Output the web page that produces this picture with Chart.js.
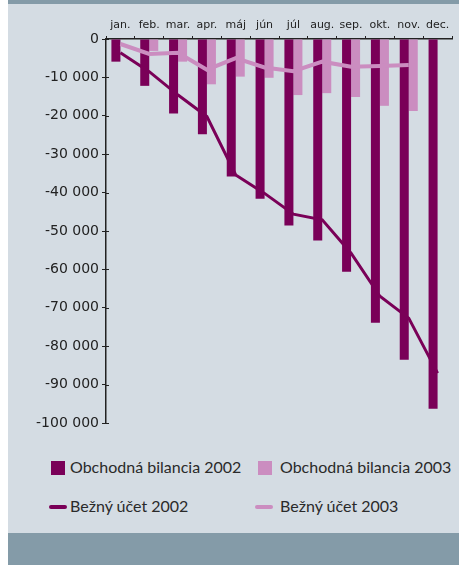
<!DOCTYPE html>
<html>
<head>
<meta charset="utf-8">
<script src="https://cdn.jsdelivr.net/npm/chart.js@4/dist/chart.umd.min.js"></script>
<style>
  html, body { margin:0; padding:0; background:#ffffff; }
  #wrap { position:relative; width:459px; height:565px; overflow:hidden; }
  #topstrip { position:absolute; left:8px; top:0; width:451px; height:4px; background:#849ba8; }
  #panel { position:absolute; left:8px; top:4px; width:451px; height:529px; background:#d4dce3; }
  #botstrip { position:absolute; left:8px; top:533px; width:451px; height:32px; background:#849ba8; }
  #c { position:absolute; left:8px; top:4px; }
  .lg { position:absolute; font-family:Lato, "Open Sans", sans-serif; font-size:16px; color:#2a2a2a; white-space:nowrap; line-height:20px; }
  .sw { position:absolute; }
</style>
</head>
<body>
<div id="wrap">
  <div id="topstrip"></div>
  <div id="panel"></div>
  <div id="botstrip"></div>
  <canvas id="c" width="451" height="440"></canvas>
  <div id="legend"></div>
</div>
<script>
// ---- data ----
const months = ["jan.", "feb.", "mar.", "apr.", "máj", "jún", "júl", "aug.", "sep.", "okt.", "nov.", "dec."];
const seriesNames = ["Obchodná bilancia 2002", "Obchodná bilancia 2003", "Bežný účet 2002", "Bežný účet 2003"];
const trade2002 = [-5900, -12200, -19400, -24800, -35800, -41600, -48600, -52500, -60600, -73900, -83500, -96300];
const trade2003 = [null, -3100, -5900, -11800, -9800, -10100, -14600, -14100, -15100, -17400, -18750, null];
const current2002 = [-3600, -8500, -14600, -20200, -35400, -40200, -45600, -47100, -55800, -67000, -72700, -87000];
const current2003 = [-1300, -3900, -3600, -8000, -5000, -7400, -8400, -5900, -7200, -7000, -6800, null];
const yTicks = [0, -10000, -20000, -30000, -40000, -50000, -60000, -70000, -80000, -90000, -100000];

const DARK = "#7a0058";
const LIGHT = "#cb8dc0";

function fmt(v) {
  const s = Math.abs(v).toString().replace(/\B(?=(\d{3})+(?!\d))/g, " ");
  return (v < 0 ? "-" : "") + s;
}

// draws the inner half of the crossing y-axis tick marks
const crossTicks = {
  id: "crossTicks",
  afterDraw(chart) {
    const y = chart.scales.y, ctx = chart.ctx;
    ctx.save();
    ctx.strokeStyle = "#222";
    ctx.lineWidth = 1;
    y.ticks.forEach(t => {
      const py = Math.round(y.getPixelForValue(t.value)) + 0.5;
      ctx.beginPath();
      ctx.moveTo(y.right, py);
      ctx.lineTo(y.right + 3, py);
      ctx.stroke();
    });
    ctx.restore();
  }
};

const chart = new Chart(document.getElementById("c"), {
  type: "bar",
  data: {
    labels: months,
    datasets: [
      { type: "bar", label: seriesNames[0], data: trade2002, backgroundColor: DARK, borderWidth: 0,
        categoryPercentage: 0.625, barPercentage: 1, order: 2 },
      { type: "bar", label: seriesNames[1], data: trade2003, backgroundColor: LIGHT, borderWidth: 0,
        categoryPercentage: 0.625, barPercentage: 1, order: 2 },
      { type: "line", label: seriesNames[2], data: current2002, borderColor: DARK, borderWidth: 3,
        pointRadius: 0, tension: 0, fill: false, order: 1, spanGaps: false },
      { type: "line", label: seriesNames[3], data: current2003, borderColor: LIGHT, borderWidth: 4,
        pointRadius: 0, tension: 0, fill: false, order: 0, spanGaps: false }
    ]
  },
  options: {
    responsive: false,
    animation: false,
    devicePixelRatio: 1,
    layout: { padding: { left: 0, right: 7, top: 0, bottom: 21 } },
    plugins: { legend: { display: false }, tooltip: { enabled: false } },
    scales: {
      x: {
        position: "top",
        offset: true,
        grid: { offset: true, drawOnChartArea: false, tickLength: 3, color: "#222", lineWidth: 1 },
        border: { color: "#222", width: 1.5 },
        ticks: { font: { family: "DejaVu Sans", size: 11 }, color: "#222", padding: 4, maxRotation: 0, autoSkip: false },
        afterFit: s => { s.height = 35; }
      },
      y: {
        min: -100000, max: 0,
        afterBuildTicks: s => { s.ticks = yTicks.map(v => ({ value: v })); },
        grid: { drawOnChartArea: false, tickLength: 4, color: "#222", lineWidth: 1 },
        border: { color: "#222", width: 1.5 },
        ticks: { font: { family: "DejaVu Sans", size: 14 }, color: "#222", padding: 3, callback: v => fmt(v) },
        afterFit: s => { s.width = 98; }
      }
    }
  },
  plugins: [crossTicks]
});

// ---- HTML legend built from series ----
const legend = document.getElementById("legend");
const items = [
  { name: seriesNames[0], kind: "box", color: DARK, x: 51, y: 461, tx: 70 },
  { name: seriesNames[1], kind: "box", color: LIGHT, x: 258, y: 461, tx: 280 },
  { name: seriesNames[2], kind: "line", color: DARK, x: 49, y: 505, tx: 70 },
  { name: seriesNames[3], kind: "line", color: LIGHT, x: 255, y: 505, tx: 280 }
];
items.forEach(it => {
  const sw = document.createElement("div");
  sw.className = "sw";
  if (it.kind === "box") {
    Object.assign(sw.style, { left: it.x + "px", top: it.y + "px", width: "14px", height: "14px", background: it.color });
  } else {
    Object.assign(sw.style, { left: it.x + "px", top: it.y + "px", width: "18px", height: "4px", background: it.color, borderRadius: "2px" });
  }
  legend.appendChild(sw);
  const t = document.createElement("div");
  t.className = "lg";
  t.textContent = it.name;
  const cy = it.kind === "box" ? it.y + 7 : it.y + 2;
  Object.assign(t.style, { left: it.tx + "px", top: (cy - 11) + "px" });
  legend.appendChild(t);
});
</script>
</body>
</html>
